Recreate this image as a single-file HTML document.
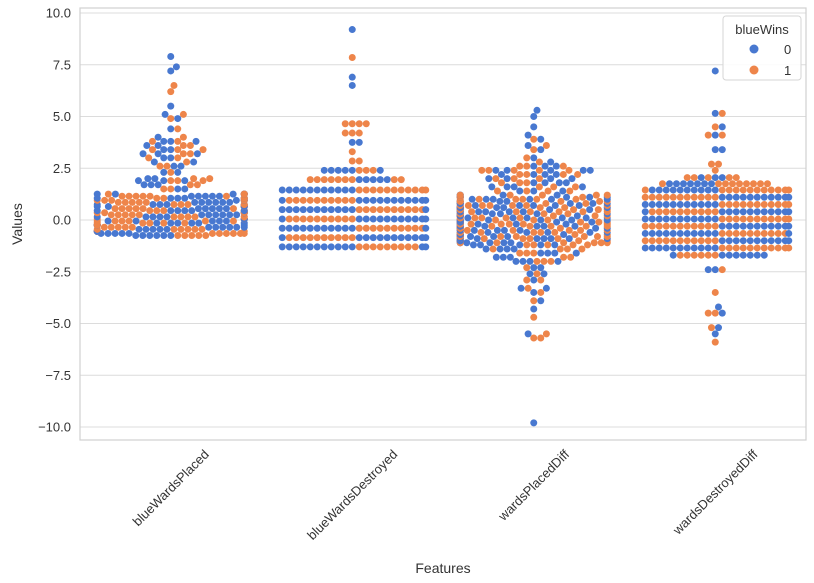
<!DOCTYPE html>
<html><head><meta charset="utf-8"><style>
body{margin:0;background:#fff;}
svg{display:block;font-family:"Liberation Sans",sans-serif;}
</style></head><body>
<svg id="chart" width="814" height="583"></svg>
<script>
const categories = ["blueWardsPlaced","blueWardsDestroyed","wardsPlacedDiff","wardsDestroyedDiff"];
const yTicks = [10,7.5,5,2.5,0,-2.5,-5,-7.5,-10];
const yTickLabels = ["10.0","7.5","5.0","2.5","0.0","\u22122.5","\u22125.0","\u22127.5","\u221210.0"];
// level values and counts per hue (blueWins 0 / 1)
const c1Levels = [-0.75,-0.65,-0.55,-0.45,-0.35,-0.25,-0.15,-0.05,0.05,0.15,0.25,0.35,0.45,0.55,0.65,0.75,0.85,0.95,1.05,1.15,1.25,1.5,1.7,1.9,2.0,2.3,2.6,2.8,3.0,3.2,3.4,3.6,3.8,4.0,4.4,4.9,5.1,5.5,6.2,6.5,7.2,7.4,7.9];
const c1N0 = [6,5,6,5,6,5,6,5,6,5,6,5,6,5,6,5,6,5,5,5,5,2,3,3,2,2,2,2,2,3,2,2,3,1,1,1,1,1,0,0,1,1,1];
const c1N1 = [5,6,5,6,5,6,5,6,5,6,5,6,5,6,5,6,5,6,5,6,5,2,2,3,2,1,2,1,2,2,3,2,2,1,1,1,1,0,1,1,0,0,0];
const c2Levels = [-1.3,-0.85,-0.4,0.05,0.5,0.95,1.45,1.95,2.4,2.85,3.3,3.75,4.2,4.65,6.5,6.9,7.85,9.2];
const c2N0 = [13,12,12,12,12,12,11,5,6,0,0,2,0,0,1,1,0,1];
const c2N1 = [9,10,10,10,10,10,11,9,3,2,1,0,3,4,0,0,1,0];
const c3Levels = [-9.8,-5.7,-5.5,-4.7,-4.3,-3.9,-3.5,-3.3,-2.9,-2.6,-2.3,-2.0,-1.8,-1.6,-1.4,-1.2,-1.1,-1.0,-0.9,-0.8,-0.7,-0.6,-0.5,-0.4,-0.3,-0.2,-0.1,0.0,0.1,0.2,0.3,0.4,0.5,0.6,0.7,0.8,0.9,1.0,1.1,1.2,1.4,1.6,1.8,2.0,2.2,2.4,2.6,2.8,3.0,3.4,3.6,3.9,4.1,4.5,5.0,5.3];
const c3N0 = [1,0,1,0,1,1,1,2,1,2,2,4,3,4,4,5,6,7,7,6,7,6,7,6,7,6,7,7,6,7,6,7,6,7,6,7,6,6,5,4,3,4,4,4,4,5,3,1,1,1,1,1,1,1,1,1];
const c3N1 = [0,2,1,1,0,1,1,1,2,1,1,3,2,3,4,5,6,6,6,7,6,7,6,7,6,7,6,6,7,6,7,6,7,6,7,6,7,6,5,5,4,3,3,3,4,5,3,1,1,1,1,1,0,0,0,0];
const c4Levels = [-5.9,-5.5,-5.2,-4.5,-4.2,-3.5,-2.4,-1.7,-1.35,-1.0,-0.65,-0.3,0.05,0.4,0.75,1.1,1.45,1.75,2.05,2.4,2.7,3.4,4.1,4.5,5.15,7.2];
const c4N0 = [0,1,1,1,1,0,2,8,11,11,12,11,11,12,11,11,10,7,3,0,0,2,1,1,1,1];
const c4N1 = [1,0,1,2,0,1,1,6,11,11,10,11,11,10,11,11,12,9,5,1,2,0,2,1,1,0];
const levelsAll = [c1Levels,c2Levels,c3Levels,c4Levels];
const n0All = [c1N0,c2N0,c3N0,c4N0];
const n1All = [c1N1,c2N1,c3N1,c4N1];

const NS="http://www.w3.org/2000/svg";
const svg=document.getElementById('chart');
const L=80,R=806,T=8,B=440;
const yS=v=>220-v*20.7;
const bw=(R-L)/categories.length;
const xC=i=>L+bw*(i+0.5);
const COL=["#4878d0","#ee854a"];
function mk(tag,attrs,parent){const e=document.createElementNS(NS,tag);for(const k in attrs)e.setAttribute(k,attrs[k]);(parent||svg).appendChild(e);return e;}

yTicks.forEach((t,i)=>{
  const g=mk('line',{x1:L,x2:R,y1:yS(t),y2:yS(t),stroke:'#dcdcdc','stroke-width':1});
  
  
  const tx=mk('text',{x:L-9,y:yS(t)+4.5,'text-anchor':'end','font-size':13,fill:'#333'});
  tx.textContent=yTickLabels[i];
  
  
});
const frame=mk('rect',{x:L,y:T,width:R-L,height:B-T,fill:'none',stroke:'#d0d0d0','stroke-width':1.2});



const r=3.5,d=7,half=bw*0.405;
categories.forEach((c,ci)=>{
  const pts=[];
  const lv=levelsAll[ci],a0=n0All[ci],a1=n1All[ci];
  lv.forEach((v,k)=>{
    let n0=a0[k],n1=a1[k],turn=k%2;
    while(n0+n1>0){
      if((turn===0&&n0>0)||n1===0){pts.push({v,h:0});n0--;}else{pts.push({v,h:1});n1--;}
      turn=1-turn;
    }
  });
  pts.sort((p,q)=>p.v-q.v);
  const placed=[];
  const cx=xC(ci);
  pts.forEach(p=>{
    const y=yS(p.v);
    const near=placed.filter(q=>Math.abs(q.y-y)<d);
    const cands=[0];
    near.forEach(q=>{const dx=Math.sqrt(d*d-(q.y-y)*(q.y-y));cands.push(q.x+dx,q.x-dx);});
    cands.sort((a,b)=>Math.abs(a)-Math.abs(b));
    let x=null;
    for(const cd of cands){
      if(near.every(q=>(q.x-cd)*(q.x-cd)+(q.y-y)*(q.y-y)>=d*d-0.01)){x=cd;break;}
    }
    if(x===null)x=0;
    if(Math.abs(x)>half)x=Math.sign(x)*half;
    placed.push({x,y,h:p.h});
  });
  placed.forEach(q=>{
    const e=mk('circle',{cx:cx+q.x,cy:q.y,r:r,fill:COL[q.h]});
    
    
  });
  const lab=mk('text',{'text-anchor':'middle','font-size':13,fill:'#333'});
  lab.textContent=c;
  
  
  const w=lab.getComputedTextLength();
  const cy=452+w*0.707/2;
  lab.setAttribute('transform',`translate(${cx},${cy}) rotate(-45) translate(0,4.5)`);
});

const yt=mk('text',{transform:'translate(22,224) rotate(-90)','text-anchor':'middle','font-size':14,fill:'#333'});
yt.textContent='Values';


const xt=mk('text',{x:443,y:573,'text-anchor':'middle','font-size':14,fill:'#333'});
xt.textContent='Features';



const lg=mk('g',{});


mk('rect',{x:723,y:16,width:78,height:64,rx:3,fill:'#fff',stroke:'#d6d6d6','fill-opacity':0.85},lg);
const lt=mk('text',{x:762,y:34,'text-anchor':'middle','font-size':13,fill:'#333'},lg);
lt.textContent='blueWins';
["0","1"].forEach((s,i)=>{
  const m=mk('circle',{cx:754,cy:49+i*21,r:4.5,fill:COL[i]},lg);
  
  
  const t=mk('text',{x:784,y:54+i*21,'font-size':13,fill:'#333'},lg);
  t.textContent=s;
  
  
});
</script>
</body></html>
